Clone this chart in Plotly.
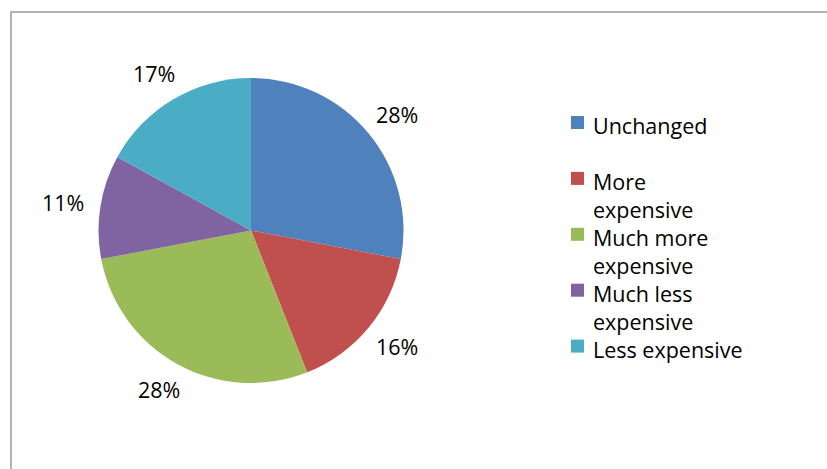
import math
import plotly.graph_objects as go

# Survey answers and their shares (%)
categories = ["Unchanged", "More expensive", "Much more expensive",
              "Much less expensive", "Less expensive"]
shares = [28, 16, 28, 11, 17]
colors = ["#4F81BD", "#C0504D", "#9BBB59", "#8064A2", "#4BACC6"]
# Legend text as it wraps in the narrow legend column ("" = blank line)
legend_lines = [["Unchanged", ""], ["More", "expensive"], ["Much more", "expensive"],
                ["Much less", "expensive"], ["Less expensive"]]

W, H = 827, 469
FONT = "Open Sans"
FS = 21.5
LINE_H = FS * 1.3  # plotly's line height for multi-line text

# Pie geometry in pixels
cx, cy, R = 251, 230.5, 152.5
label_rx, label_ry = 190, 182


def px(x):
    return x / W


def py(y):
    return 1 - y / H


fig = go.Figure(go.Pie(
    labels=categories,
    values=shares,
    marker=dict(colors=colors, line=dict(width=0)),
    sort=False,
    direction="clockwise",
    rotation=0,
    textinfo="none",
    hoverinfo="label+percent",
    showlegend=False,
    domain=dict(x=[px(cx - R), px(cx + R)], y=[py(cy + R), py(cy - R)]),
))

annotations = []
shapes = []

# Percentage labels placed outside each slice, at its mid-angle
total = sum(shares)
cum = 0
for v in shares:
    mid = (cum + v / 2) / total * 2 * math.pi
    cum += v
    lx = cx + label_rx * math.sin(mid)
    ly = cy - label_ry * math.cos(mid)
    annotations.append(dict(
        x=px(lx), y=py(ly), xref="paper", yref="paper",
        text=f"{round(v / total * 100)}%", showarrow=False,
        xanchor="center", yanchor="middle",
        font=dict(family=FONT, size=FS, color="#000000"),
    ))

# Legend: one text block, with a colour square beside each item's first line
all_lines = [t if t else "&nbsp;" for lines in legend_lines for t in lines]
legend_top = 108.5
annotations.append(dict(
    x=px(591), y=py(legend_top), xref="paper", yref="paper",
    text="<br>".join(all_lines), showarrow=False,
    xanchor="left", yanchor="top", align="left",
    font=dict(family=FONT, size=FS, color="#000000"),
))
sq = 13
row = 0
for i, lines in enumerate(legend_lines):
    yc = legend_top + 14 + row * LINE_H
    shapes.append(dict(
        type="rect", xref="paper", yref="paper",
        x0=px(571), x1=px(571 + sq), y0=py(yc + sq / 2), y1=py(yc - sq / 2),
        fillcolor=colors[i], line=dict(width=0),
    ))
    row += len(lines)

# Chart area frame
shapes.append(dict(
    type="rect", xref="paper", yref="paper",
    x0=px(11), x1=px(W + 20), y0=py(H + 20), y1=py(12),
    line=dict(color="#9a9a9a", width=1.5), fillcolor="rgba(0,0,0,0)",
    layer="below",
))

fig.update_layout(
    width=W, height=H,
    margin=dict(l=0, r=0, t=0, b=0),
    paper_bgcolor="white",
    plot_bgcolor="white",
    annotations=annotations,
    shapes=shapes,
)

fig.write_html("out.html")
